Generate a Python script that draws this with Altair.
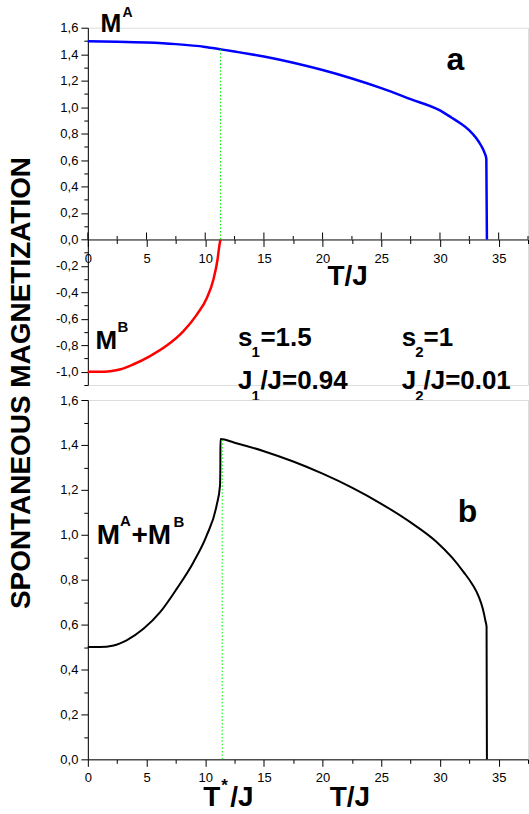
import altair as alt
import pandas as pd

# ---------------- data ----------------
# panel a : sublattice magnetizations
T_A = [0.0, 2.5, 5.0, 7.5, 10.0, 11.3, 12.5, 15.0, 17.5, 20.0, 22.5, 25.0, 27.5, 30.0, 31.0, 31.7,
       32.5, 33.1, 33.5, 33.8, 33.95, 34.0]
M_A = [1.497, 1.494, 1.488, 1.476, 1.455, 1.437, 1.42, 1.382, 1.335, 1.28, 1.216, 1.143, 1.06, 0.975, 0.92, 0.88,
       0.825, 0.765, 0.71, 0.655, 0.61, 0.0]
T_B = [0.0, 1.0, 1.9, 2.8, 3.9, 5.3, 6.75, 8.15, 9.3, 10.15, 10.7, 11.05, 11.2, 11.3]
M_B = [-1.0, -1.0, -0.995, -0.981, -0.943, -0.881, -0.8, -0.692, -0.566, -0.44, -0.302, -0.151, -0.05, 0.0]
# panel b : total magnetization
T_SUM = [0.0, 1.0, 2.2, 3.3, 4.74, 6.16, 7.57, 9.0, 10.12, 10.97, 11.26, 11.29, 11.3, 12.5, 15.0, 17.5, 20.0,
         22.5, 25.0, 27.5, 29.67, 31.0, 32.0, 32.75, 33.3, 33.65, 33.88, 33.97, 34.0]
M_SUM = [0.5, 0.5, 0.507, 0.53, 0.581, 0.655, 0.759, 0.878, 0.996, 1.13, 1.219, 1.3, 1.426, 1.41, 1.372, 1.326, 1.272,
         1.21, 1.138, 1.055, 0.97, 0.9, 0.835, 0.78, 0.725, 0.67, 0.615, 0.59, 0.0]
T_STAR_A = [11.3]
TOP_A = [1.437]
T_STAR_B = [11.45]
TOP_B = [1.424]

X_TICKS = [0, 2.5, 5, 7.5, 10, 12.5, 15, 17.5, 20, 22.5, 25, 27.5, 30, 32.5, 35, 37.5]
X_MAJOR = [0, 5, 10, 15, 20, 25, 30, 35]
X_MINOR = [2.5, 7.5, 12.5, 17.5, 22.5, 27.5, 32.5, 37.5]
Y_TICKS_A = [-1.1, -1.0, -0.9, -0.8, -0.7, -0.6, -0.5, -0.4, -0.3, -0.2, -0.1, 0.0, 0.1, 0.2, 0.3, 0.4,
             0.5, 0.6, 0.7, 0.8, 0.9, 1.0, 1.1, 1.2, 1.3, 1.4, 1.5, 1.6]
Y_TICKS_B = [0.0, 0.1, 0.2, 0.3, 0.4, 0.5, 0.6, 0.7, 0.8, 0.9, 1.0, 1.1, 1.2, 1.3, 1.4, 1.5, 1.6]

FONT = "Liberation Sans"
W = 441
H_A = 358
H_B = 360

ymaj = "abs(datum.value*5 - round(datum.value*5)) < 0.01"
ylab = ("%s ? replace(replace(format(datum.value, '.1f'), '.', ','), '−', '-') : ''" % ymaj)
xmaj = "abs(datum.value/5 - round(datum.value/5)) < 0.01"
xlab = "%s ? format(datum.value, 'd') : ''" % xmaj

def yaxis(vals):
    return alt.Axis(values=vals, labelExpr=ylab, grid=False, title=None,
                    tickSize={"condition": {"test": ymaj, "value": 7}, "value": 4},
                    labelPadding=3, labelFontSize=13, labelColor="black",
                    domainColor="black", tickColor="black", labelFont=FONT)

def xaxis(offset, ts_major, ts_minor, pad):
    return alt.Axis(values=X_TICKS, labelExpr=xlab, grid=False, title=None, offset=offset,
                    tickSize={"condition": {"test": xmaj, "value": ts_major}, "value": ts_minor},
                    labelPadding=pad, labelFontSize=13, labelColor="black", labelFlush=False,
                    domainColor="black", tickColor="black", labelFont=FONT, labelOverlap=False)

xs = alt.Scale(domain=[0, 37.5], nice=False, zero=False)
ys_a = alt.Scale(domain=[-1.1, 1.6], nice=False, zero=False)
ys_b = alt.Scale(domain=[0, 1.6], nice=False, zero=False)

off_a = -(H_A - H_A * 1.6 / 2.7)
XA = alt.X("T:Q", scale=xs, axis=xaxis(off_a, 7, 4, 6))
YA = alt.Y("v:Q", scale=ys_a, axis=yaxis(Y_TICKS_A))
XB = alt.X("T:Q", scale=xs, axis=xaxis(0, 7, 4, 5))
YB = alt.Y("v:Q", scale=ys_b, axis=yaxis(Y_TICKS_B))


def txt(X, Y, text, T, v, size, align="left", weight="bold"):
    df = pd.DataFrame({"T": [T], "v": [v], "t": [text]})
    return alt.Chart(df).mark_text(align=align, baseline="alphabetic", fontSize=size,
                                   fontWeight=weight, font=FONT, color="black").encode(
        x=X, y=Y, text="t:N")


# ---------------- panel a ----------------
dfa = pd.DataFrame({"T": T_A, "v": M_A})
dfb = pd.DataFrame({"T": T_B, "v": M_B})
dga = pd.DataFrame({"T": T_STAR_A, "v": [0.0], "v2": TOP_A})

line_a = alt.Chart(dfa).mark_line(color="#0000ff", strokeWidth=2.5, interpolate="monotone").encode(x=XA, y=YA)
line_b = alt.Chart(dfb).mark_line(color="#ff0000", strokeWidth=2.5, interpolate="monotone").encode(x=XA, y=YA)
green_a = alt.Chart(dga).mark_rule(color="#00ee00", strokeWidth=1, strokeDash=[1.5, 2]).encode(
    x=XA, y=YA, y2="v2:Q")

# upward halves of the crossing ticks on the zero axis of panel a
up_major = alt.Chart(pd.DataFrame({"T": X_MAJOR, "v": [0.0] * len(X_MAJOR)})).mark_tick(
    orient="vertical", size=7, thickness=1, yOffset=-3.5, color="black", opacity=1).encode(x=XA, y=YA)
up_minor = alt.Chart(pd.DataFrame({"T": X_MINOR, "v": [0.0] * len(X_MINOR)})).mark_tick(
    orient="vertical", size=3.5, thickness=1, yOffset=-1.75, color="black", opacity=1).encode(x=XA, y=YA)

ytitle = alt.Chart(pd.DataFrame({"t": ["SPONTANEOUS MAGNETIZATION"]})).mark_text(
    angle=270, align="center", baseline="middle", fontSize=28, fontWeight="bold", font=FONT,
    color="black").encode(x=alt.value(-66), y=alt.value(356), text="t:N")

texts_a = [
    txt(XA, YA, "T/J", 22.13, -0.347, 28, align="center"),
    txt(XA, YA, "M", 1.08, 1.57, 25),
    txt(XA, YA, "A", 2.96, 1.683, 14),
    txt(XA, YA, "a", 30.56, 1.283, 32),
    txt(XA, YA, "M", 0.654, -0.83, 26),
    txt(XA, YA, "B", 2.52, -0.702, 15),
    txt(XA, YA, "s", 12.8, -0.808, 26),
    txt(XA, YA, "1", 13.95, -0.89, 15),
    txt(XA, YA, "=1.5", 14.7, -0.808, 26),
    txt(XA, YA, "J", 12.8, -1.132, 26),
    txt(XA, YA, "1", 13.95, -1.223, 15),
    txt(XA, YA, "/J=0.94", 14.7, -1.132, 26),
    txt(XA, YA, "s", 26.74, -0.808, 26),
    txt(XA, YA, "2", 27.9, -0.89, 15),
    txt(XA, YA, "=1", 28.6, -0.808, 26),
    txt(XA, YA, "J", 26.74, -1.132, 26),
    txt(XA, YA, "2", 27.9, -1.223, 15),
    txt(XA, YA, "/J=0.01", 28.6, -1.132, 26),
]

top = alt.layer(line_a, line_b, green_a, up_major, up_minor, ytitle, *texts_a).properties(width=W, height=H_A)

# ---------------- panel b ----------------
dfs = pd.DataFrame({"T": T_SUM, "v": M_SUM})
dgb = pd.DataFrame({"T": T_STAR_B, "v": [0.0], "v2": TOP_B})
line_s = alt.Chart(dfs).mark_line(color="black", strokeWidth=2, interpolate="monotone").encode(x=XB, y=YB)
green_b = alt.Chart(dgb).mark_rule(color="#00ee00", strokeWidth=1, strokeDash=[1.5, 2]).encode(
    x=XB, y=YB, y2="v2:Q")

texts_b = [
    txt(XB, YB, "M", 0.765, 0.96, 28),
    txt(XB, YB, "A", 2.74, 1.04, 15),
    txt(XB, YB, "+M", 3.72, 0.96, 28),
    txt(XB, YB, "B", 7.29, 1.035, 15),
    txt(XB, YB, "b", 31.52, 1.058, 32),
    txt(XB, YB, "T", 9.84, -0.21, 28),
    txt(XB, YB, "*", 11.37, -0.139, 17),
    txt(XB, YB, "/J", 12.14, -0.21, 28),
    txt(XB, YB, "T/J", 22.33, -0.21, 28, align="center"),
]

bottom = alt.layer(line_s, green_b, *texts_b).properties(width=W, height=H_B)

chart = alt.vconcat(top, bottom, spacing=15, bounds="flush").properties(
    padding={"left": 7, "top": 4, "right": 0, "bottom": 0}
).configure_view(stroke=None).configure(font=FONT)

chart.save("out.html", embed_options={"renderer": "svg", "actions": False})
